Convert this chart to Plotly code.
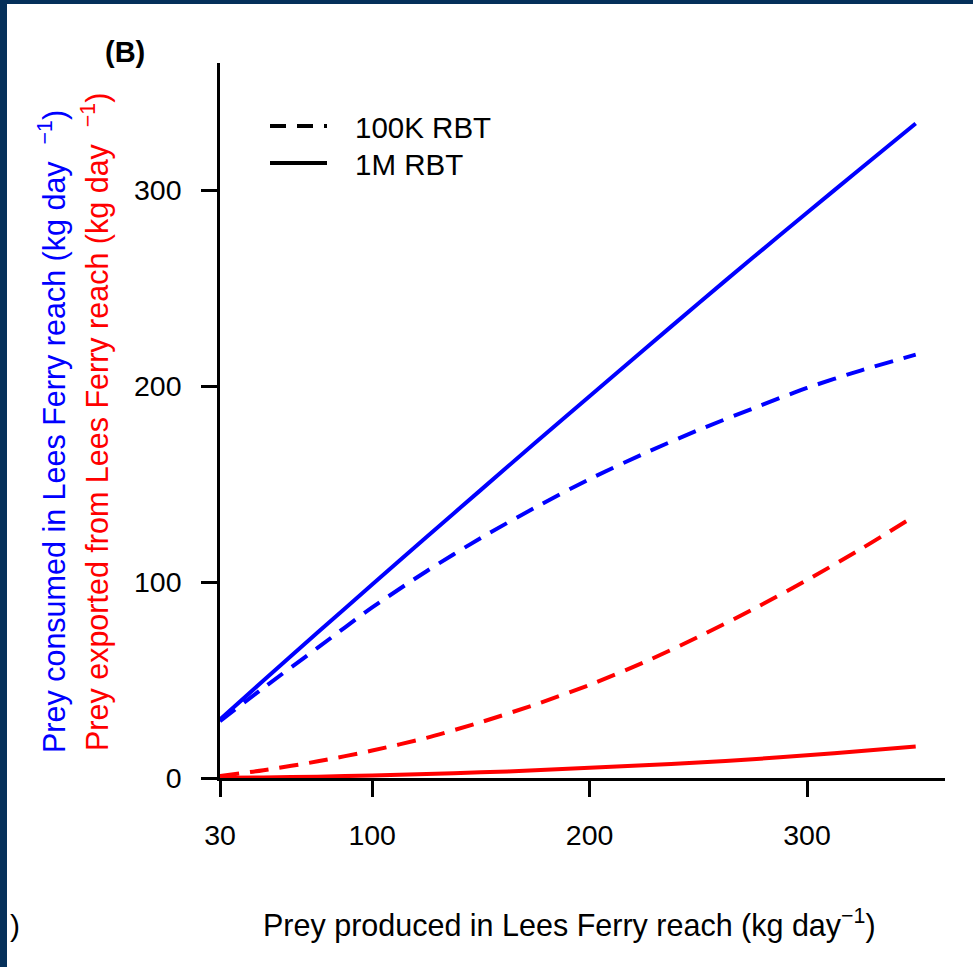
import plotly.graph_objects as go

# ---- data ----
produced = [30, 50, 75, 100, 125, 150, 175, 200, 225, 250, 275, 300, 325, 350]
consumed_100k = [29, 46, 66.5, 87, 105.5, 122.5, 138, 152.5, 165.5, 177.5, 188.5, 199, 208, 216]
consumed_1m = [29.9, 49.7, 74.3, 98.7, 123, 147, 171, 194.8, 218.5, 242.1, 265.4, 288.4, 311.2, 333.9]
exported_100k = [1, 4, 8.5, 14, 20.5, 28.5, 37.5, 47.5, 59, 72, 86, 101, 117, 134]
exported_1m = [0.1, 0.3, 0.7, 1.3, 2.0, 2.9, 3.9, 5.2, 6.5, 7.9, 9.6, 11.6, 13.8, 16.1]

x_ticks = [30, 100, 200, 300]
y_ticks = [0, 100, 200, 300]
legend_labels = ["100K RBT", "1M RBT"]

BLUE = "#0000FF"
RED = "#FF0000"
FONT = "Liberation Sans, Arial, sans-serif"
LW = 4
DASH = "19px,11px"

W, H = 973, 967
L, R, T, B = 220, 28, 63, 189
PW = W - L - R
PH = H - T - B


def px_x(p):
    return (p - L) / PW


def px_y(p):
    return (H - B - p) / PH


fig = go.Figure()
series = [
    (consumed_1m, BLUE, "solid"),
    (consumed_100k, BLUE, DASH),
    (exported_100k, RED, DASH),
    (exported_1m, RED, "solid"),
]
for ys, col, dash in series:
    fig.add_trace(go.Scatter(x=produced, y=ys, mode="lines",
                             line=dict(color=col, width=LW, dash=dash, shape="spline",
                                       smoothing=0.8),
                             showlegend=False, hoverinfo="skip"))

x_scale = (807 - 220) / 270.0
y_scale = (778 - 190) / 300.0
x_max = 30 + PW / x_scale
y_max = PH / y_scale

axis_common = dict(showgrid=False, zeroline=False, showline=True, linecolor="black",
                   linewidth=2.5, ticks="outside", ticklen=16, tickwidth=2.5,
                   tickcolor="black", tickfont=dict(family=FONT, size=28.5, color="black"),
                   layer="below traces")

fig.update_layout(
    width=W, height=H,
    margin=dict(l=L, r=R, t=T, b=B, pad=0),
    paper_bgcolor="white", plot_bgcolor="white",
    font=dict(family=FONT, color="black"),
    xaxis=dict(range=[30, x_max], tickvals=x_ticks, ticklabelstandoff=14, **axis_common),
    yaxis=dict(range=[0, y_max], tickvals=y_ticks, ticklabelstandoff=14, **axis_common),
    showlegend=False,
)

# legend (drawn as key lines + labels)
key_y = [126, 163]
key_dash = ["16px,11px", "solid"]
for lab, ky, kd in zip(legend_labels, key_y, key_dash):
    fig.add_shape(type="line", xref="paper", yref="paper",
                  x0=px_x(270), x1=px_x(327), y0=px_y(ky), y1=px_y(ky),
                  line=dict(color="black", width=LW, dash=kd))
    fig.add_annotation(xref="paper", yref="paper", showarrow=False,
                       x=px_x(353), y=px_y(ky + 1), xanchor="left", yanchor="middle",
                       text=lab, font=dict(family=FONT, size=29.5, color="black"))

ann = [
    dict(text="<b>(B)</b>", x=px_x(125), y=px_y(52), font=dict(size=29)),
    dict(text="Prey consumed in Lees Ferry reach (kg day  <sup>\u22121</sup>)",
         x=px_x(52), y=px_y(432), textangle=-90, font=dict(size=30.5, color=BLUE)),
    dict(text="Prey exported from Lees Ferry reach (kg day  <sup>\u22121</sup>)",
         x=px_x(95), y=px_y(422), textangle=-90, font=dict(size=30.5, color=RED)),
    dict(text="Prey produced in Lees Ferry reach (kg day<sup>\u22121</sup>)",
         x=px_x(569), y=px_y(924), font=dict(size=30.5)),
    dict(text=")", x=px_x(15), y=px_y(925), font=dict(size=30)),
]
for a in ann:
    fig.add_annotation(xref="paper", yref="paper", showarrow=False,
                       xanchor="center", yanchor="middle",
                       font_family=FONT, **a)

# dark frame strips (page border in the reference)
NAVY = "#05305A"
fig.add_shape(type="rect", xref="paper", yref="paper", x0=px_x(0), x1=px_x(7),
              y0=px_y(H), y1=px_y(0), fillcolor=NAVY, line_width=0, layer="above")
fig.add_shape(type="rect", xref="paper", yref="paper", x0=px_x(0), x1=px_x(W),
              y0=px_y(4), y1=px_y(0), fillcolor=NAVY, line_width=0, layer="above")

fig.write_html("out.html")
